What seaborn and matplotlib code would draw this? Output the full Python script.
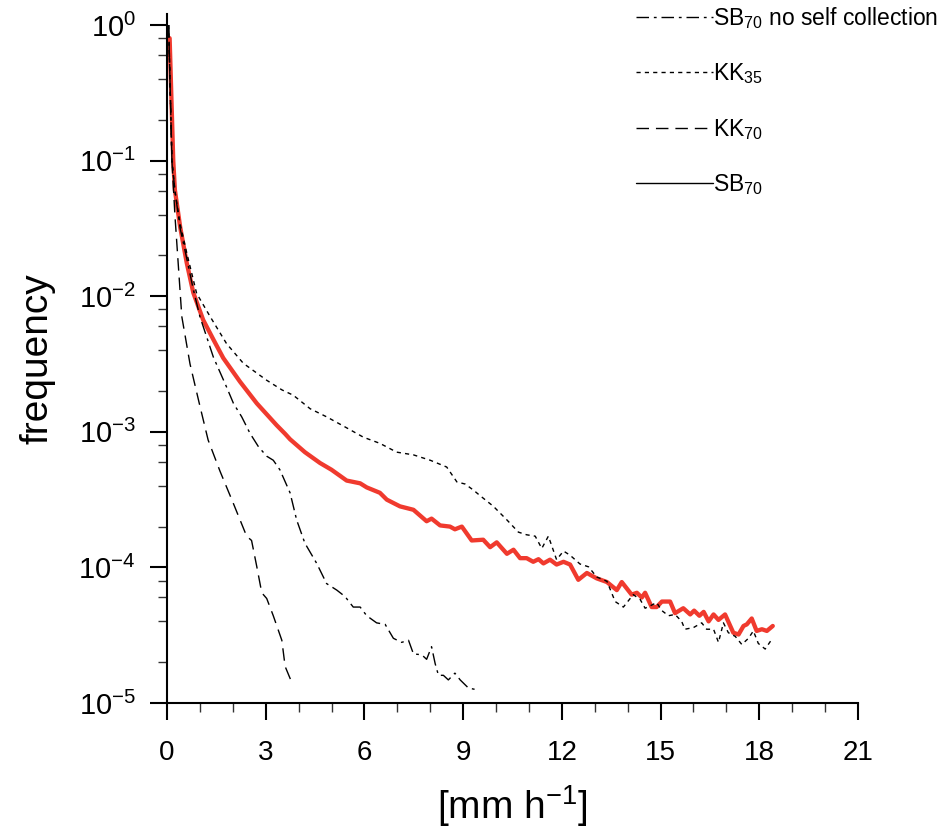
import matplotlib
matplotlib.use("Agg")
import matplotlib.pyplot as plt
import seaborn as sns
import pandas as pd
from matplotlib.lines import Line2D
from matplotlib.ticker import LogLocator, MultipleLocator, NullFormatter

# ---------------- data ----------------
x_sb70 = [0.08, 0.19, 0.24, 0.40, 0.60, 0.80, 1.10, 1.41, 1.71, 2.22, 2.73, 3.33, 3.59, 3.74,
          4.19, 4.65, 5.00, 5.46, 5.87, 6.07, 6.47, 6.68, 7.08, 7.49, 7.89, 8.04, 8.30, 8.60,
          8.75, 8.96, 9.26, 9.61, 9.82, 10.02, 10.33, 10.53, 10.73, 10.93, 11.13, 11.29, 11.44,
          11.64, 11.84, 12.05, 12.25, 12.50, 12.76, 13.06, 13.37, 13.67, 13.82, 14.12, 14.28,
          14.43, 14.53, 14.73, 14.88, 15.04, 15.29, 15.44, 15.69, 15.90, 16.02, 16.18, 16.31,
          16.46, 16.61, 16.76, 16.96, 17.21, 17.37, 17.52, 17.62, 17.77, 17.92, 18.08, 18.23, 18.41]
f_sb70 = [0.8, 0.1, 0.0607, 0.0324, 0.0176, 0.0106, 0.00668, 0.00479, 0.0035, 0.00234, 0.00162,
          0.00112, 0.000966, 0.000881, 0.000708, 0.000589, 0.000525, 0.000437, 0.000417, 0.000389,
          0.000355, 0.000316, 0.000282, 0.000266, 0.000219, 0.000229, 0.000204, 0.0002, 0.000191,
          0.0002, 0.000158, 0.00016, 0.000141, 0.000153, 0.000126, 0.000135, 0.000117, 0.000117,
          0.00011, 0.000115, 0.000107, 0.000114, 0.000105, 0.00011, 0.000105, 8.1e-5, 9.1e-5,
          8.3e-5, 7.8e-5, 6.8e-5, 7.8e-5, 6.3e-5, 6.5e-5, 6.0e-5, 6.5e-5, 5.1e-5, 5.1e-5, 5.6e-5,
          5.6e-5, 4.6e-5, 5.0e-5, 4.5e-5, 4.8e-5, 4.4e-5, 4.7e-5, 4.0e-5, 4.5e-5, 4.1e-5, 4.5e-5,
          3.3e-5, 3.2e-5, 3.7e-5, 3.8e-5, 4.2e-5, 3.4e-5, 3.5e-5, 3.4e-5, 3.7e-5]

x_kk35 = [0.05, 0.15, 0.24, 0.40, 0.60, 0.90, 1.31, 1.81, 2.32, 3.03, 3.49, 3.84, 4.35, 4.85,
          5.46, 5.97, 6.47, 6.98, 7.49, 8.00, 8.50, 8.81, 9.06, 9.31, 9.51, 9.92, 10.33, 10.68,
          10.93, 11.19, 11.39, 11.59, 11.84, 12.05, 12.25, 12.55, 12.81, 13.06, 13.37, 13.62,
          13.87, 14.17, 14.38, 14.53, 14.68, 14.88, 15.04, 15.24, 15.44, 15.64, 15.74, 16.00,
          16.25, 16.40, 16.61, 16.76, 16.91, 17.06, 17.27, 17.47, 17.67, 17.82, 17.97, 18.18, 18.38]
f_kk35 = [1.0, 0.1, 0.06, 0.034, 0.0209, 0.0105, 0.00708, 0.00447, 0.0032, 0.0024, 0.00204,
          0.00186, 0.00148, 0.00129, 0.00107, 0.000912, 0.000822, 0.000708, 0.000676, 0.000617,
          0.00055, 0.000427, 0.000412, 0.000372, 0.000339, 0.000282, 0.000224, 0.000182, 0.000174,
          0.00017, 0.000138, 0.00017, 0.000114, 0.000132, 0.000123, 0.000106, 0.000101, 8.5e-5,
          7.9e-5, 5.6e-5, 5.1e-5, 6.3e-5, 5.8e-5, 5.0e-5, 5.2e-5, 5.5e-5, 4.8e-5, 4.4e-5, 4.5e-5,
          4.0e-5, 3.5e-5, 3.6e-5, 3.9e-5, 3.5e-5, 3.5e-5, 2.8e-5, 3.9e-5, 3.3e-5, 3.1e-5, 2.7e-5,
          3.0e-5, 3.4e-5, 2.75e-5, 2.5e-5, 2.95e-5]

x_kk70 = [0.05, 0.15, 0.24, 0.45, 0.70, 1.00, 1.25, 1.61, 2.02, 2.42, 2.57, 2.73, 2.88, 3.03,
          3.23, 3.49, 3.59, 3.76]
f_kk70 = [1.0, 0.1, 0.0398, 0.00708, 0.00316, 0.00155, 0.00087, 0.000513, 0.000295, 0.00017,
          0.000158, 0.000101, 6.5e-5, 5.9e-5, 4.4e-5, 2.9e-5, 1.86e-5, 1.48e-5]

x_sbnsc = [0.05, 0.15, 0.24, 0.40, 0.60, 0.80, 1.00, 1.41, 1.81, 2.02, 2.27, 2.52, 2.78, 3.03,
           3.23, 3.43, 3.74, 3.94, 4.19, 4.55, 4.85, 5.16, 5.41, 5.66, 5.87, 6.07, 6.37, 6.63,
           6.88, 7.13, 7.34, 7.49, 7.74, 7.89, 8.04, 8.15, 8.25, 8.40, 8.55, 8.75, 8.91, 9.16, 9.36]
f_sbnsc = [1.0, 0.1, 0.06, 0.0316, 0.019, 0.0112, 0.00708, 0.00355, 0.00214, 0.00162, 0.00129,
           0.000977, 0.000776, 0.000661, 0.000617, 0.000525, 0.000355, 0.000224, 0.000151,
           0.000107, 7.6e-5, 6.8e-5, 6.1e-5, 5.1e-5, 5.1e-5, 4.4e-5, 3.9e-5, 3.8e-5, 3.0e-5,
           2.8e-5, 2.9e-5, 2.3e-5, 2.27e-5, 2.1e-5, 2.6e-5, 1.95e-5, 1.6e-5, 1.6e-5, 1.48e-5,
           1.66e-5, 1.48e-5, 1.29e-5, 1.26e-5]

legend_labels = ["SB$_{70}$ no self collection", "KK$_{35}$", "KK$_{70}$", "SB$_{70}$"]
x_ticks = [0, 3, 6, 9, 12, 15, 18, 21]

# ---------------- style ----------------
sns.set_theme(style="white")
plt.rcParams['font.family'] = ['Liberation Sans', 'DejaVu Sans']
plt.rcParams['mathtext.fontset'] = 'custom'
plt.rcParams['mathtext.rm'] = 'Liberation Sans'
plt.rcParams['mathtext.it'] = 'Liberation Sans:italic'
plt.rcParams['mathtext.bf'] = 'Liberation Sans:bold'
plt.rcParams['mathtext.default'] = 'regular'
for k in ['text.color', 'axes.labelcolor', 'xtick.color', 'ytick.color', 'axes.edgecolor']:
    plt.rcParams[k] = 'black'

ls_nsc = (0, (9, 3.5, 2, 3.5))
ls_kk35 = (0, (3, 3))
ls_kk70 = (0, (9, 5))

fig = plt.figure(figsize=(9.47, 8.38), dpi=100)
ax = fig.add_axes([167/947, 1-703/838, (858-167)/947, (703-14.3)/838])

sns.lineplot(x=x_sb70, y=f_sb70, ax=ax, color="#f03a2e", linewidth=3.1,
             estimator=None, sort=False, zorder=2)
sns.lineplot(x=x_sbnsc, y=f_sbnsc, ax=ax, color="black", linewidth=1.0, linestyle=ls_nsc,
             estimator=None, sort=False, zorder=3)
sns.lineplot(x=x_kk35, y=f_kk35, ax=ax, color="black", linewidth=1.0, linestyle=ls_kk35,
             estimator=None, sort=False, zorder=3)
sns.lineplot(x=x_kk70, y=f_kk70, ax=ax, color="black", linewidth=1.0, linestyle=ls_kk70,
             estimator=None, sort=False, zorder=3)

ax.set_yscale("log")
ax.set_xlim(0, 21)
ax.set_ylim(1e-5, 1.2)
ax.set_xticks(x_ticks)
ax.set_xticklabels([str(t) for t in x_ticks])
ax.xaxis.set_minor_locator(MultipleLocator(1))
ax.yaxis.set_major_locator(LogLocator(base=10, numticks=12))
ax.yaxis.set_minor_locator(LogLocator(base=10, subs=[2, 4, 6, 8], numticks=12))
ax.yaxis.set_minor_formatter(NullFormatter())

for s in ["top", "right"]:
    ax.spines[s].set_visible(False)
for s in ["left", "bottom"]:
    ax.spines[s].set_color("black")
    ax.spines[s].set_linewidth(1.5)

ax.tick_params(which="major", direction="out", length=12.5, width=1.5, color="black",
               labelcolor="black", labelsize=20, pad=14, left=True, bottom=True)
ax.tick_params(which="minor", direction="out", length=6.5, width=1.0, color="#333333",
               left=True, bottom=True)
ax.tick_params(axis="y", which="major", pad=10, labelsize=21)

ax.set_ylabel("frequency", fontsize=28, color="black")
ax.set_xlabel("[mm h$^{-1}$]", fontsize=28, color="black")
ax.yaxis.set_label_coords(-0.162, 0.5)
ax.xaxis.set_label_coords(0.5, -0.117)

handles = [Line2D([], [], color="black", lw=1.0, linestyle=ls_nsc),
           Line2D([], [], color="black", lw=1.0, linestyle=ls_kk35),
           Line2D([], [], color="black", lw=1.0, linestyle=ls_kk70),
           Line2D([], [], color="black", lw=1.0, linestyle="-")]
fig.legend(handles, legend_labels, loc="upper left", bbox_to_anchor=(636/947, 1-5/838),
           frameon=False, fontsize=16.5, handlelength=3.35, handletextpad=0.0,
           labelspacing=1.33, borderpad=0, borderaxespad=0, labelcolor="black")

fig.savefig("out.png", dpi=100)
